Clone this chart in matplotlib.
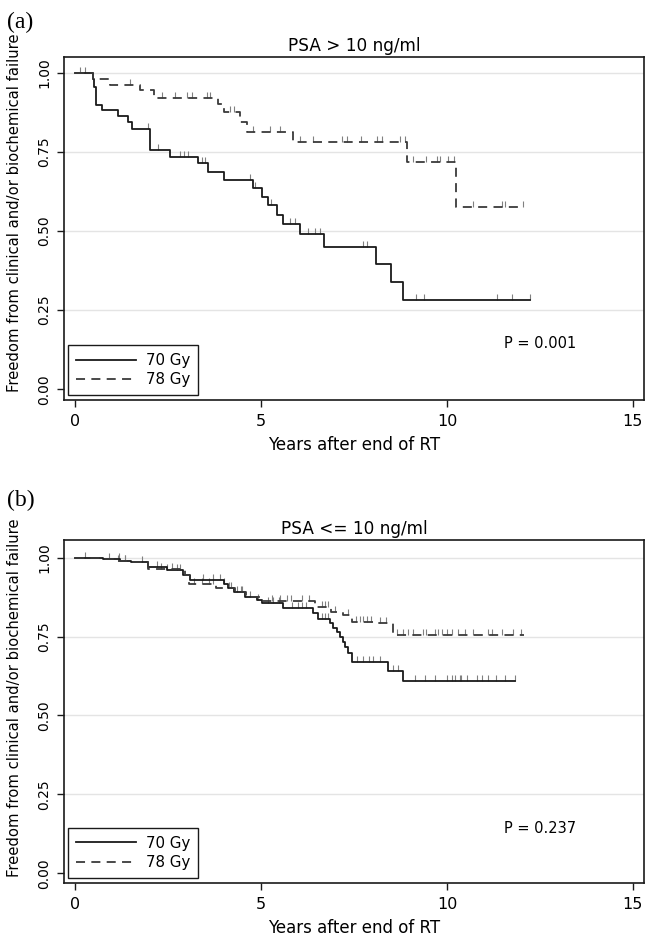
import numpy as np
import matplotlib
matplotlib.use("Agg")
import matplotlib.pyplot as plt
from matplotlib.path import Path

# ---------------- Data ----------------
# Panel (a): PSA > 10 ng/ml
a70_t = [0, 0.47, 0.52, 0.56, 0.72, 1.14, 1.43, 1.52, 2.02, 2.54, 3.31, 3.58, 3.99,
         4.78, 5.02, 5.20, 5.42, 5.60, 6.05, 6.68, 8.08, 8.49, 8.81]
a70_s = [1.0, 0.979, 0.956, 0.899, 0.883, 0.862, 0.846, 0.821, 0.756, 0.735, 0.714, 0.686, 0.661,
         0.635, 0.609, 0.582, 0.551, 0.522, 0.490, 0.450, 0.396, 0.340, 0.282]
a70_end = 12.23
a70_cens = [0.12, 1.97, 2.24, 2.82, 2.92, 3.04, 3.40, 3.49, 4.70, 4.84, 5.26, 5.78, 5.91,
            6.27, 6.45, 6.59, 7.75, 7.84, 9.17, 9.38, 11.35, 11.76, 12.23]

a78_t = [0, 0.49, 0.94, 1.75, 2.11, 3.85, 3.99, 4.44, 4.61, 5.87, 8.92, 10.24]
a78_s = [1.0, 0.982, 0.963, 0.945, 0.919, 0.900, 0.877, 0.845, 0.814, 0.782, 0.719, 0.577]
a78_end = 12.05
a78_cens = [0.26, 1.48, 2.33, 2.69, 3.00, 3.14, 3.54, 3.63, 4.17, 4.26, 4.79, 5.24, 5.51,
            6.05, 6.41, 7.17, 7.30, 7.70, 8.11, 8.24, 8.74, 8.87, 9.10, 9.45, 9.72, 9.81,
            10.04, 10.19, 10.71, 11.47, 11.56, 12.05]

# Panel (b): PSA <= 10 ng/ml
b70_t = [0, 0.76, 1.20, 1.50, 1.97, 2.46, 2.91, 3.10, 3.99, 4.10, 4.26, 4.57, 4.90, 5.02,
         5.60, 6.41, 6.54, 6.85, 6.94, 7.03, 7.12, 7.21, 7.26, 7.35, 7.44, 8.42, 8.83]
b70_s = [1.0, 0.996, 0.990, 0.987, 0.970, 0.960, 0.945, 0.930, 0.915, 0.905, 0.890, 0.875, 0.866, 0.855,
         0.840, 0.824, 0.805, 0.792, 0.776, 0.766, 0.750, 0.734, 0.718, 0.697, 0.670, 0.640, 0.610]
b70_end = 11.83
b70_cens = [0.27, 1.19, 1.34, 2.20, 2.46, 2.73, 2.82, 3.45, 3.72, 3.90, 4.00, 4.15, 4.35, 4.45,
            4.93, 5.20, 5.33, 5.47, 5.82, 6.00, 6.10, 6.22, 6.63, 6.72, 6.81, 7.57, 7.75, 7.89,
            8.02, 8.20, 8.56, 8.69, 9.14, 9.41, 9.68, 9.99, 10.13, 10.22, 10.35, 10.39, 10.53,
            10.80, 10.93, 11.11, 11.33, 11.56, 11.83]

b78_t = [0, 0.67, 1.10, 1.55, 1.97, 2.95, 3.05, 3.80, 4.30, 4.60, 5.00, 6.45, 6.89, 7.21,
         7.44, 8.10, 8.56]
b78_s = [1.0, 0.996, 0.990, 0.985, 0.965, 0.945, 0.918, 0.905, 0.890, 0.875, 0.862, 0.845, 0.829,
         0.818, 0.797, 0.792, 0.755]
b78_end = 12.06
b78_cens = [0.90, 1.16, 1.34, 1.80, 2.30, 2.60, 3.20, 3.40, 3.60, 3.70, 4.20, 4.50, 4.70, 5.30,
            5.50, 5.70, 5.80, 6.10, 6.30, 6.63, 6.72, 6.81, 7.00, 7.33, 7.55, 7.65, 7.75, 7.85,
            7.95, 8.20, 8.35, 8.65, 8.83, 8.96, 9.10, 9.36, 9.45, 9.68, 9.77, 9.86, 9.99, 10.13,
            10.30, 10.48, 10.71, 11.11, 11.20, 11.47, 11.78, 12.00]

titles = ["PSA > 10 ng/ml", "PSA <= 10 ng/ml"]
pvals = ["P = 0.001", "P = 0.237"]
panel_labels = ["(a)", "(b)"]
legend_labels = ["70 Gy", "78 Gy"]
xticks = [0, 5, 10, 15]
yticks = [0.0, 0.25, 0.5, 0.75, 1.0]
ytick_labels = ["0.00", "0.25", "0.50", "0.75", "1.00"]
xlabel = "Years after end of RT"
ylabel = "Freedom from clinical and/or biochemical failure"

# ---------------- Plot ----------------
plt.rcParams['font.family'] = ['DejaVu Sans']
W, H = 645, 938
fig = plt.figure(figsize=(W / 100, H / 100), dpi=100)

tick_path = Path([(0, 0), (0, 1)], [Path.MOVETO, Path.LINETO])


def km(ax, t, s, end, cens, ls, color, label):
    tt = list(t) + [end]
    ss = list(s) + [s[-1]]
    ax.step(tt, ss, where='post', color=color, lw=1.3, linestyle=ls, label=label, zorder=3)
    t_arr = np.array(t)
    s_arr = np.array(s)
    cy = [s_arr[np.searchsorted(t_arr, c, side='right') - 1] for c in cens]
    ax.plot(cens, cy, linestyle='none', marker=tick_path, markersize=9,
            markerfacecolor='none', markeredgecolor='#808080', markeredgewidth=0.8, zorder=2)


panels = [
    dict(rect=[64 / W, (H - 400) / H, 580 / W, 343 / H], ylim=(-0.034, 1.05),
         series=[(a70_t, a70_s, a70_end, a70_cens), (a78_t, a78_s, a78_end, a78_cens)],
         lab_y=(H - 12) / H, ylab_c=0.545),
    dict(rect=[64 / W, (H - 882.7) / H, 580 / W, 342.7 / H], ylim=(-0.03, 1.056),
         series=[(b70_t, b70_s, b70_end, b70_cens), (b78_t, b78_s, b78_end, b78_cens)],
         lab_y=(H - 490) / H, ylab_c=0.54),
]

styles = [('-', '#1a1a1a'), ((0, (5, 3.5)), '#3a3a3a')]

for i, p in enumerate(panels):
    ax = fig.add_axes(p['rect'])
    for (t, s, end, cens), (ls, col), lab in zip(p['series'], styles, legend_labels):
        km(ax, t, s, end, cens, ls, col, lab)
    ax.set_xlim(-0.30, 15.30)
    ax.set_ylim(*p['ylim'])
    ax.set_xticks(xticks)
    ax.set_yticks(yticks)
    ax.set_yticklabels(ytick_labels, rotation=90, va='center')
    for g in [0.25, 0.5, 0.75, 1.0]:
        ax.axhline(g, color='#e4e4e4', lw=1.0, zorder=0)
    for sp in ax.spines.values():
        sp.set_linewidth(1.2)
        sp.set_color('#1a1a1a')
    ax.tick_params(axis='both', direction='out', length=5, width=1.0, color='#1a1a1a')
    ax.tick_params(axis='y', pad=4, labelsize=10)
    ax.tick_params(axis='x', pad=5, labelsize=11.5)
    ax.set_title(titles[i], fontsize=12.2, pad=4)
    ax.set_xlabel(xlabel, fontsize=12, labelpad=5)
    ax.set_ylabel(ylabel, fontsize=10.6)
    ax.yaxis.set_label_coords(-0.072, p['ylab_c'])
    ax.text(12.5, 0.143, pvals[i], fontsize=10.5, ha='center', va='center')
    leg = ax.legend(loc='lower left', bbox_to_anchor=(0.007, 0.015), borderaxespad=0,
                    fancybox=False, edgecolor='#1a1a1a', framealpha=1, fontsize=10.8,
                    handlelength=4.0, handletextpad=0.7, borderpad=0.5, labelspacing=0.3)
    leg.get_frame().set_linewidth(1.0)
    fig.text(7 / W, p['lab_y'], panel_labels[i], fontsize=17, family='Liberation Serif',
             ha='left', va='top')

fig.savefig('out.png', dpi=100)
